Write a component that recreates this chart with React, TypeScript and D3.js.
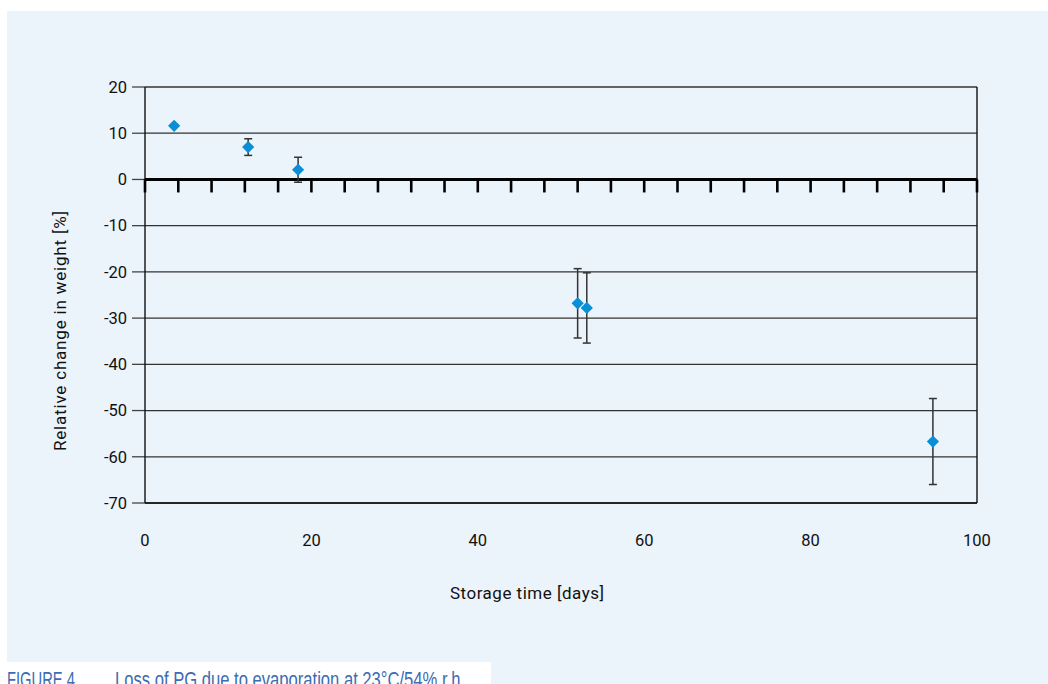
import React from "react";
import * as d3 from "d3";

// Storage time (days) and relative weight change (%) with standard deviations
const days = [3.5, 12.4, 18.4, 52.0, 53.1, 94.7];
const change = [11.6, 7.0, 2.1, -26.8, -27.8, -56.7];
const stdDev = [0, 1.8, 2.7, 7.5, 7.6, 9.3];

const xTicks = [0, 20, 40, 60, 80, 100];
const yTicks = [20, 10, 0, -10, -20, -30, -40, -50, -60, -70];

const W = 1048;
const H = 684;
const bg = "#EBF3FB";
const font = "Roboto";
const captionFont = "Liberation Sans";

export default function App() {
  const x = d3.scaleLinear().domain([0, 100]).range([145, 977]);
  const y = d3.scaleLinear().domain([20, -70]).range([87, 503]);
  const minorX = d3.range(0, 100.001, 4);

  const diamond = d3.symbol().type(d3.symbolDiamond2).size(95)();

  return (
    <svg
      width={W}
      height={H}
      style={{ position: "absolute", left: 0, top: 0, display: "block" }}
    >
      <rect x={0} y={0} width={W} height={H} fill="#fff" />
      <rect x={7} y={11} width={W - 7} height={H - 11} fill={bg} />

      {/* horizontal gridlines and left tick marks */}
      {yTicks.map((t) => (
        <g key={t}>
          <line x1={x(0)} x2={x(100)} y1={y(t)} y2={y(t)} stroke="#333" strokeWidth={1.3} />
          <line x1={x(0) - 13} x2={x(0)} y1={y(t)} y2={y(t)} stroke="#444" strokeWidth={1.3} />
          <text
            x={127}
            y={y(t)}
            dy="0.35em"
            textAnchor="end"
            fontFamily={font}
            fontSize={16.5}
            fill="#111"
          >
            {t}
          </text>
        </g>
      ))}

      {/* plot frame */}
      <line x1={x(0)} x2={x(0)} y1={y(20)} y2={y(-70)} stroke="#111" strokeWidth={1.4} />
      <line x1={x(100)} x2={x(100)} y1={y(20)} y2={y(-70)} stroke="#111" strokeWidth={1.4} />
      <line x1={x(0)} x2={x(100)} y1={y(-70)} y2={y(-70)} stroke="#111" strokeWidth={1.4} />

      {/* zero axis with tick marks */}
      <line x1={x(0)} x2={x(100)} y1={y(0)} y2={y(0)} stroke="#000" strokeWidth={3} />
      {minorX.map((t) => (
        <line
          key={t}
          x1={x(t)}
          x2={x(t)}
          y1={y(0)}
          y2={y(0) + 13}
          stroke="#000"
          strokeWidth={2.6}
        />
      ))}

      {/* x tick labels */}
      {xTicks.map((t) => (
        <text
          key={t}
          x={x(t)}
          y={540}
          dy="0.35em"
          textAnchor="middle"
          fontFamily={font}
          fontSize={16.5}
          fill="#111"
        >
          {t}
        </text>
      ))}

      {/* error bars */}
      {days.map((d, i) =>
        stdDev[i] > 0 ? (
          <g key={"e" + i} stroke="#333" strokeWidth={1.5}>
            <line x1={x(d)} x2={x(d)} y1={y(change[i] + stdDev[i])} y2={y(change[i] - stdDev[i])} />
            <line x1={x(d) - 4} x2={x(d) + 4} y1={y(change[i] + stdDev[i])} y2={y(change[i] + stdDev[i])} />
            <line x1={x(d) - 4} x2={x(d) + 4} y1={y(change[i] - stdDev[i])} y2={y(change[i] - stdDev[i])} />
          </g>
        ) : null
      )}

      {/* data points */}
      {days.map((d, i) => (
        <path
          key={"p" + i}
          d={diamond as string}
          transform={`translate(${x(d)},${y(change[i])})`}
          fill="#0A8ED6"
        />
      ))}

      {/* axis titles */}
      <text
        x={527}
        y={593}
        dy="0.35em"
        textAnchor="middle"
        fontFamily={font}
        fontSize={17}
        fill="#111"
        textLength={154}
      >
        Storage time [days]
      </text>
      <text
        transform={`translate(60,${331}) rotate(-90)`}
        dy="0.35em"
        textAnchor="middle"
        fontFamily={font}
        fontSize={17}
        fill="#111"
        textLength={240}
      >
        Relative change in weight [%]
      </text>

      {/* caption strip */}
      <rect x={0} y={662} width={491} height={22} fill="#fff" />
      <text
        x={7}
        y={687}
        fontFamily={captionFont}
        fontSize={22}
        fill="#3B6DB4"
        textLength={68}
        lengthAdjust="spacingAndGlyphs"
      >
        FIGURE 4
      </text>
      <text
        x={115}
        y={687}
        fontFamily={captionFont}
        fontSize={22}
        fill="#3B6DB4"
        textLength={350}
        lengthAdjust="spacingAndGlyphs"
      >
        Loss of PG due to evaporation at 23°C/54% r.h.
      </text>
    </svg>
  );
}
